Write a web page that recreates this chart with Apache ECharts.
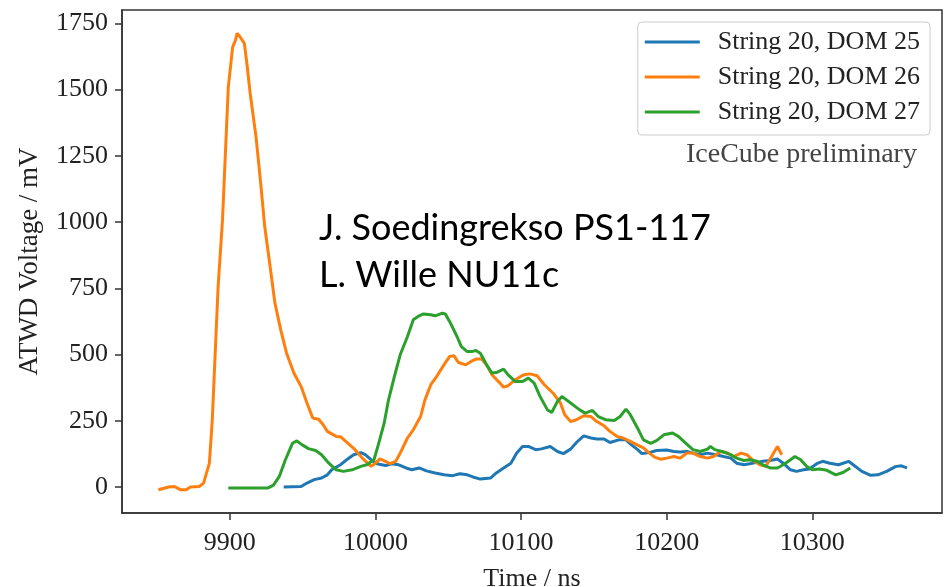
<!DOCTYPE html>
<html>
<head>
<meta charset="utf-8">
<script src="https://cdn.jsdelivr.net/npm/echarts@6/dist/echarts.min.js"></script>
<style>
html,body{margin:0;padding:0;background:#fff;}
#chart{width:945px;height:587px;}
</style>
</head>
<body>
<div id="chart"></div>
<script>
// ---- data ----
const seriesNames = ['String 20, DOM 25', 'String 20, DOM 26', 'String 20, DOM 27'];
const xTicks = [9900, 10000, 10100, 10200, 10300];
const yTicks = [0, 250, 500, 750, 1000, 1250, 1500, 1750];

const t25 = [9937,9949,9953,9958,9963,9967,9970,9976,9981,9985,9990,9993,9997,10001,10007,10011,10016,10021,10025,10030,10035,10041,10047,10053,10058,10063,10067,10072,10079,10083,10088,10093,10097,10101,10105,10110,10114,10120,10125,10129,10134,10138,10143,10148,10152,10157,10161,10167,10172,10175,10180,10183,10188,10193,10200,10205,10209,10214,10218,10223,10228,10234,10239,10244,10248,10253,10257,10262,10266,10271,10276,10280,10285,10289,10294,10298,10303,10307,10312,10318,10325,10328,10334,10340,10345,10351,10357,10361,10365];
const v25 = [0,2,15,28,34,46,65,84,106,122,130,122,103,88,81,88,84,72,65,72,61,53,46,43,50,46,38,30,34,53,72,90,128,153,153,141,144,153,134,126,143,168,193,185,181,181,168,178,178,163,141,126,130,138,140,134,132,134,128,122,128,122,115,109,90,84,88,93,97,100,106,90,65,59,65,68,88,97,90,84,97,84,59,44,46,59,77,80,72];

const t26 = [9851,9858,9862,9866,9870,9873,9879,9882,9886,9888,9890,9892,9895,9897,9899,9902,9904,9905,9907,9910,9912,9914,9918,9921,9924,9928,9931,9935,9939,9944,9949,9953,9957,9961,9964,9967,9973,9976,9981,9986,9991,9997,10000,10003,10007,10010,10014,10017,10022,10026,10031,10034,10038,10042,10047,10051,10054,10057,10062,10066,10069,10073,10077,10080,10085,10088,10091,10096,10102,10106,10111,10116,10122,10127,10130,10134,10138,10143,10148,10152,10157,10161,10166,10170,10175,10180,10184,10188,10192,10196,10200,10205,10209,10214,10218,10223,10228,10232,10237,10241,10246,10251,10255,10260,10264,10268,10272,10276,10279];
const v26 = [-10,0,2,-10,-10,0,2,15,90,254,506,757,1008,1260,1510,1661,1687,1712,1699,1674,1586,1486,1322,1159,983,819,694,593,505,430,379,317,260,256,236,210,191,190,166,141,109,78,90,106,97,88,97,128,185,216,266,329,386,417,461,493,495,470,461,475,483,483,455,424,395,377,382,405,424,427,420,386,354,317,273,247,254,269,266,247,231,210,191,185,172,158,148,128,112,105,109,115,109,128,128,115,109,115,134,130,115,128,122,97,84,78,115,153,122];

const t27 = [9899,9926,9930,9934,9938,9943,9946,9950,9954,9959,9963,9968,9973,9978,9984,9990,9994,9999,10002,10006,10009,10013,10017,10022,10026,10030,10033,10038,10041,10046,10048,10051,10056,10059,10063,10066,10069,10072,10077,10080,10083,10088,10091,10096,10101,10105,10109,10113,10118,10121,10125,10128,10134,10140,10144,10149,10153,10158,10164,10168,10172,10175,10180,10184,10189,10193,10198,10204,10208,10213,10218,10223,10228,10230,10233,10238,10244,10248,10253,10257,10262,10266,10271,10276,10280,10285,10288,10292,10296,10300,10305,10310,10316,10321,10326];
const v27 = [-4,-4,7,40,100,165,174,158,145,138,122,90,65,59,65,78,84,103,160,241,329,417,499,568,631,646,653,650,646,656,653,624,568,530,511,511,515,505,455,430,432,445,424,398,398,411,392,342,292,281,323,342,317,292,279,289,266,254,251,266,294,273,222,178,165,175,197,204,191,166,141,134,143,153,141,134,122,109,100,103,97,84,72,72,84,103,115,103,78,65,68,63,46,55,72];

const colors = ['#1f77b4', '#ff7f0e', '#2ca02c'];
const serif = 'Liberation Serif';

function pairs(t, v) { return t.map((x, i) => [x, v[i]]); }
const seriesData = [pairs(t25, v25), pairs(t26, v26), pairs(t27, v27)];

const chart = echarts.init(document.getElementById('chart'), null, {renderer: 'canvas'});
chart.setOption({
  animation: false,
  backgroundColor: '#fff',
  grid: {left: 122, top: 10, right: 3, bottom: 74, outerBoundsMode: 'none', containLabel: false, show: true, borderColor: '#333', borderWidth: 1.5, backgroundColor: 'transparent'},
  xAxis: {
    type: 'value', min: 9826, max: 10389,
    name: 'Time / ns', nameLocation: 'middle', nameGap: 53,
    nameTextStyle: {fontFamily: serif, fontSize: 26, color: '#222'},
    splitLine: {show: false},
    axisLine: {show: true, onZero: false, lineStyle: {color: '#333', width: 1.5}},
    axisTick: {show: true, length: 7, lineStyle: {color: '#333', width: 1.5}, customValues: xTicks},
    axisLabel: {fontFamily: serif, fontSize: 26, color: '#222', margin: 17, customValues: xTicks, formatter: v => String(v)}
  },
  yAxis: {
    type: 'value', min: -98, max: 1800,
    name: 'ATWD Voltage / mV', nameLocation: 'middle', nameGap: 79, nameRotate: 90,
    nameTextStyle: {fontFamily: serif, fontSize: 27, color: '#222'},
    splitLine: {show: false},
    axisLine: {show: true, onZero: false, lineStyle: {color: '#333', width: 1.5}},
    axisTick: {show: true, length: 7, lineStyle: {color: '#333', width: 1.5}, customValues: yTicks},
    axisLabel: {fontFamily: serif, fontSize: 26, color: '#222', margin: 14, padding: [7, 0, 0, 0], customValues: yTicks, formatter: v => String(v)}
  },
  legend: {
    data: seriesNames,
    orient: 'vertical', right: 15, top: 22,
    icon: 'rect', itemWidth: 55, itemHeight: 3, itemGap: 9,
    padding: [7, 10, 10, 7],
    backgroundColor: '#fff', borderColor: '#ccc', borderWidth: 1, borderRadius: 4,
    textStyle: {fontFamily: serif, fontSize: 26, color: '#222', padding: [0, 0, 0, 13]}
  },
  graphic: [
    {type: 'text', left: 686, top: 141, style: {text: 'IceCube preliminary', font: '28px "Liberation Serif"', fill: '#444'}},
    {type: 'text', left: 319, top: 210, style: {text: 'J. Soedingrekso PS1-117', font: '36px Lato', fill: '#000'}},
    {type: 'text', left: 319, top: 257, style: {text: 'L. Wille NU11c', font: '36px Lato', fill: '#000'}}
  ],
  series: seriesNames.map((n, i) => ({
    name: n, type: 'line', data: seriesData[i], showSymbol: false, symbol: 'none',
    lineStyle: {color: colors[i], width: 3}, itemStyle: {color: colors[i]}, z: 2 + i
  }))
});
</script>
</body>
</html>
